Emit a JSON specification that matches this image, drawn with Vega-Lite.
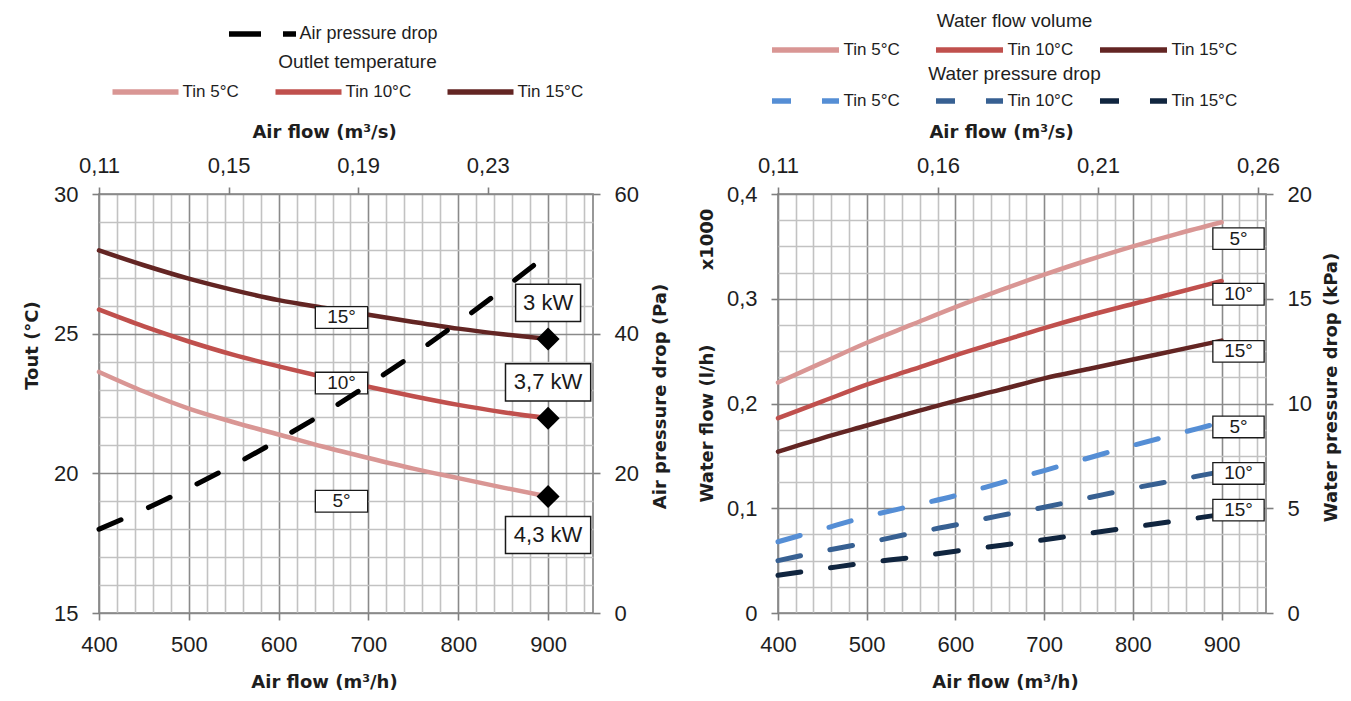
{
  "$schema": "https://vega.github.io/schema/vega-lite/v6.json",
  "background": "white",
  "padding": {"left": 22, "top": 11, "right": 5, "bottom": 5},
  "datasets": {
    "tout": [
      {"airflow": 400, "Tin 5°C": 23.63, "Tin 10°C": 25.86, "Tin 15°C": 27.98},
      {"airflow": 450, "Tin 5°C": 22.93, "Tin 10°C": 25.26, "Tin 15°C": 27.45},
      {"airflow": 500, "Tin 5°C": 22.32, "Tin 10°C": 24.72, "Tin 15°C": 26.97},
      {"airflow": 550, "Tin 5°C": 21.83, "Tin 10°C": 24.24, "Tin 15°C": 26.56},
      {"airflow": 600, "Tin 5°C": 21.39, "Tin 10°C": 23.83, "Tin 15°C": 26.2},
      {"airflow": 650, "Tin 5°C": 20.95, "Tin 10°C": 23.45, "Tin 15°C": 25.93},
      {"airflow": 700, "Tin 5°C": 20.55, "Tin 10°C": 23.1, "Tin 15°C": 25.68},
      {"airflow": 750, "Tin 5°C": 20.17, "Tin 10°C": 22.76, "Tin 15°C": 25.42},
      {"airflow": 800, "Tin 5°C": 19.83, "Tin 10°C": 22.45, "Tin 15°C": 25.18},
      {"airflow": 850, "Tin 5°C": 19.49, "Tin 10°C": 22.19, "Tin 15°C": 24.98},
      {"airflow": 900, "Tin 5°C": 19.17, "Tin 10°C": 21.97, "Tin 15°C": 24.81}
    ],
    "pa": [
      {"airflow": 400, "series": "Air pressure drop", "pa": 12.0},
      {"airflow": 450, "series": "Air pressure drop", "pa": 14.8},
      {"airflow": 500, "series": "Air pressure drop", "pa": 17.9},
      {"airflow": 550, "series": "Air pressure drop", "pa": 21.2},
      {"airflow": 600, "series": "Air pressure drop", "pa": 24.8},
      {"airflow": 650, "series": "Air pressure drop", "pa": 28.6},
      {"airflow": 700, "series": "Air pressure drop", "pa": 32.7},
      {"airflow": 750, "series": "Air pressure drop", "pa": 37.0},
      {"airflow": 800, "series": "Air pressure drop", "pa": 41.6},
      {"airflow": 850, "series": "Air pressure drop", "pa": 46.4},
      {"airflow": 900, "series": "Air pressure drop", "pa": 51.4}
    ],
    "leftLabels": [
      {"airflow": 670, "tout": 25.58, "label": "15°"},
      {"airflow": 670, "tout": 23.23, "label": "10°"},
      {"airflow": 670, "tout": 19.0, "label": "5°"}
    ],
    "power": [
      {"airflow": 900, "tout": 24.81, "power": "3 kW"},
      {"airflow": 900, "tout": 21.97, "power": "3,7 kW"},
      {"airflow": 900, "tout": 19.17, "power": "4,3 kW"}
    ],
    "flow": [
      {"airflow": 400, "Tin 5°C": 0.220, "Tin 10°C": 0.186, "Tin 15°C": 0.154},
      {"airflow": 450, "Tin 5°C": 0.239, "Tin 10°C": 0.202, "Tin 15°C": 0.167},
      {"airflow": 500, "Tin 5°C": 0.258, "Tin 10°C": 0.218, "Tin 15°C": 0.179},
      {"airflow": 550, "Tin 5°C": 0.275, "Tin 10°C": 0.232, "Tin 15°C": 0.191},
      {"airflow": 600, "Tin 5°C": 0.292, "Tin 10°C": 0.246, "Tin 15°C": 0.2025},
      {"airflow": 650, "Tin 5°C": 0.308, "Tin 10°C": 0.259, "Tin 15°C": 0.213},
      {"airflow": 700, "Tin 5°C": 0.323, "Tin 10°C": 0.272, "Tin 15°C": 0.224},
      {"airflow": 750, "Tin 5°C": 0.337, "Tin 10°C": 0.284, "Tin 15°C": 0.233},
      {"airflow": 800, "Tin 5°C": 0.350, "Tin 10°C": 0.295, "Tin 15°C": 0.242},
      {"airflow": 850, "Tin 5°C": 0.362, "Tin 10°C": 0.306, "Tin 15°C": 0.251},
      {"airflow": 900, "Tin 5°C": 0.373, "Tin 10°C": 0.317, "Tin 15°C": 0.260}
    ],
    "kpa": [
      {"airflow": 400, "Tin 5°C": 3.4, "Tin 10°C": 2.5, "Tin 15°C": 1.8},
      {"airflow": 450, "Tin 5°C": 4.0, "Tin 10°C": 2.95, "Tin 15°C": 2.1},
      {"airflow": 500, "Tin 5°C": 4.6, "Tin 10°C": 3.35, "Tin 15°C": 2.4},
      {"airflow": 550, "Tin 5°C": 5.1, "Tin 10°C": 3.8, "Tin 15°C": 2.65},
      {"airflow": 600, "Tin 5°C": 5.6, "Tin 10°C": 4.2, "Tin 15°C": 2.95},
      {"airflow": 650, "Tin 5°C": 6.2, "Tin 10°C": 4.65, "Tin 15°C": 3.22},
      {"airflow": 700, "Tin 5°C": 6.8, "Tin 10°C": 5.05, "Tin 15°C": 3.5},
      {"airflow": 750, "Tin 5°C": 7.4, "Tin 10°C": 5.5, "Tin 15°C": 3.8},
      {"airflow": 800, "Tin 5°C": 8.0, "Tin 10°C": 5.95, "Tin 15°C": 4.1},
      {"airflow": 850, "Tin 5°C": 8.55, "Tin 10°C": 6.35, "Tin 15°C": 4.4},
      {"airflow": 900, "Tin 5°C": 9.1, "Tin 10°C": 6.75, "Tin 15°C": 4.7}
    ],
    "flowLabels": [
      {"airflow": 919, "flow": 0.3574, "label": "5°"},
      {"airflow": 919, "flow": 0.3043, "label": "10°"},
      {"airflow": 919, "flow": 0.2498, "label": "15°"}
    ],
    "kpaLabels": [
      {"airflow": 919, "kpa": 8.88, "label": "5°"},
      {"airflow": 919, "kpa": 6.66, "label": "10°"},
      {"airflow": 919, "kpa": 4.91, "label": "15°"}
    ],
    "blank": [{}]
  },
  "bounds": "flush",
  "spacing": 185,
  "hconcat": [
    {
      "width": 494,
      "height": 419,
      "layer": [
        {
          "layer": [
            {
              "layer": [
                {
                  "data": {"name": "tout"},
                  "transform": [{"fold": ["Tin 5°C", "Tin 10°C", "Tin 15°C"], "as": ["tin", "tout"]}],
                  "mark": {"type": "line", "strokeWidth": 4.5, "strokeCap": "round", "interpolate": "monotone"},
                  "encoding": {
                    "x": {
                      "field": "airflow", "type": "quantitative",
                      "scale": {"domain": [400, 950], "nice": false, "zero": false},
                      "axis": {
                        "orient": "bottom", "title": "Air flow (m³/h)",
                        "values": [400,420,440,460,480,500,520,540,560,580,600,620,640,660,680,700,720,740,760,780,800,820,840,860,880,900,920,940],
                        "tickCount": 200, "format": "d",
                        "labelExpr": "datum.value % 100 === 0 ? datum.label : ''",
                        "grid": true,
                        "gridColor": {"condition": {"test": "datum.value % 100 === 0", "value": "#8a8a8a"}, "value": "#c2c2c2"},
                        "gridWidth": 1.6,
                        "tickSize": 7,
                        "tickOpacity": {"condition": {"test": "datum.value % 100 === 0", "value": 1}, "value": 0},
                        "labelPadding": 14, "titlePadding": 18, "titleX": 225,
                        "labelOverlap": false, "labelFlush": false
                      }
                    },
                    "y": {
                      "field": "tout", "type": "quantitative",
                      "scale": {"domain": [15, 30], "nice": false, "zero": false},
                      "axis": {
                        "orient": "left", "title": "Tout (°C)",
                        "values": [15,16,17,18,19,20,21,22,23,24,25,26,27,28,29,30],
                        "tickCount": 200, "format": "d",
                        "labelExpr": "datum.value % 5 === 0 ? datum.label : ''",
                        "grid": true,
                        "gridColor": {"condition": {"test": "datum.value % 5 === 0", "value": "#8a8a8a"}, "value": "#c2c2c2"},
                        "gridWidth": 1.6,
                        "tickSize": 7,
                        "tickOpacity": {"condition": {"test": "datum.value % 5 === 0", "value": 1}, "value": 0},
                        "labelPadding": 14, "titlePadding": 12, "titleY": 151,
                        "labelOverlap": false
                      }
                    },
                    "color": {
                      "field": "tin", "type": "nominal",
                      "scale": {"domain": ["Tin 5°C", "Tin 10°C", "Tin 15°C"], "range": ["#D99694", "#C0504D", "#632523"]},
                      "legend": {
                        "orient": "none", "legendX": 32.5, "legendY": -141,
                        "direction": "horizontal", "columns": 3,
                        "title": "Outlet temperature", "titleAnchor": "middle", "titleOrient": "top",
                        "titlePadding": 6, "titleFontSize": 19,
                        "symbolType": "M-3,0L3,0", "symbolSize": 484, "symbolStrokeWidth": 5.5,
                        "labelFontSize": 17, "labelOffset": 23, "columnPadding": 25,
                        "padding": 0, "gridAlign": "each"
                      }
                    }
                  }
                },
                {
                  "data": {"name": "leftLabels"},
                  "mark": {"type": "point", "shape": "M-0.872,-0.362L0.872,-0.362L0.872,0.362L-0.872,0.362Z", "size": 3600, "filled": true, "fill": "white", "stroke": "#1a1a1a", "strokeWidth": 1.3, "opacity": 1},
                  "encoding": {
                    "x": {"field": "airflow", "type": "quantitative"},
                    "y": {"field": "tout", "type": "quantitative"}
                  }
                },
                {
                  "data": {"name": "leftLabels"},
                  "mark": {"type": "text", "font": "Liberation Sans", "fontSize": 19, "color": "#1a1a1a", "align": "center", "baseline": "middle"},
                  "encoding": {
                    "x": {"field": "airflow", "type": "quantitative"},
                    "y": {"field": "tout", "type": "quantitative"},
                    "text": {"field": "label"}
                  }
                },
                {
                  "data": {"name": "power"},
                  "mark": {"type": "point", "shape": "diamond", "size": 530, "filled": true, "color": "black", "opacity": 1},
                  "encoding": {
                    "x": {"field": "airflow", "type": "quantitative"},
                    "y": {"field": "tout", "type": "quantitative"}
                  }
                },
                {
                  "data": {"name": "power"},
                  "transform": [{"filter": {"field": "power", "equal": "3 kW"}}],
                  "mark": {"type": "point", "shape": "M-1.083,-0.62L1.083,-0.62L1.083,0.62L-1.083,0.62Z", "size": 3600, "filled": true, "fill": "white", "stroke": "#1a1a1a", "strokeWidth": 1.5, "opacity": 1, "yOffset": -36},
                  "encoding": {
                    "x": {"field": "airflow", "type": "quantitative"},
                    "y": {"field": "tout", "type": "quantitative"}
                  }
                },
                {
                  "data": {"name": "power"},
                  "transform": [{"filter": {"field": "power", "equal": "3,7 kW"}}],
                  "mark": {"type": "point", "shape": "M-1.42,-0.62L1.42,-0.62L1.42,0.62L-1.42,0.62Z", "size": 3600, "filled": true, "fill": "white", "stroke": "#1a1a1a", "strokeWidth": 1.5, "opacity": 1, "yOffset": -36},
                  "encoding": {
                    "x": {"field": "airflow", "type": "quantitative"},
                    "y": {"field": "tout", "type": "quantitative"}
                  }
                },
                {
                  "data": {"name": "power"},
                  "transform": [{"filter": {"field": "power", "equal": "4,3 kW"}}],
                  "mark": {"type": "point", "shape": "M-1.42,-0.62L1.42,-0.62L1.42,0.62L-1.42,0.62Z", "size": 3600, "filled": true, "fill": "white", "stroke": "#1a1a1a", "strokeWidth": 1.5, "opacity": 1, "yOffset": 38.5},
                  "encoding": {
                    "x": {"field": "airflow", "type": "quantitative"},
                    "y": {"field": "tout", "type": "quantitative"}
                  }
                },
                {
                  "data": {"name": "power"},
                  "transform": [{"filter": {"field": "power", "oneOf": ["3 kW", "3,7 kW"]}}],
                  "mark": {"type": "text", "font": "Liberation Sans", "fontSize": 22, "color": "#1a1a1a", "align": "center", "baseline": "middle", "yOffset": -36},
                  "encoding": {
                    "x": {"field": "airflow", "type": "quantitative"},
                    "y": {"field": "tout", "type": "quantitative"},
                    "text": {"field": "power"}
                  }
                },
                {
                  "data": {"name": "power"},
                  "transform": [{"filter": {"field": "power", "equal": "4,3 kW"}}],
                  "mark": {"type": "text", "font": "Liberation Sans", "fontSize": 22, "color": "#1a1a1a", "align": "center", "baseline": "middle", "yOffset": 38.5},
                  "encoding": {
                    "x": {"field": "airflow", "type": "quantitative"},
                    "y": {"field": "tout", "type": "quantitative"},
                    "text": {"field": "power"}
                  }
                }
              ]
            },
            {
              "data": {"name": "pa"},
              "mark": {"type": "line", "strokeWidth": 5, "strokeDash": [24, 30], "strokeCap": "round", "interpolate": "monotone"},
              "encoding": {
                "x": {"field": "airflow", "type": "quantitative"},
                "y": {
                  "field": "pa", "type": "quantitative",
                  "scale": {"domain": [0, 60], "nice": false, "zero": false},
                  "axis": {
                    "orient": "right", "title": "Air pressure drop (Pa)",
                    "values": [0, 20, 40, 60], "grid": false, "tickSize": 7,
                    "labelPadding": 14, "titlePadding": 31, "titleY": 202, "titleAngle": 270
                  }
                },
                "color": {
                  "field": "series", "type": "nominal",
                  "scale": {"range": ["#000000"]},
                  "legend": {
                    "orient": "none", "legendX": 149.5, "legendY": -174, "title": null,
                    "symbolType": "M-3,0L3,0", "symbolSize": 499, "symbolStrokeWidth": 5.5, "symbolDash": [32, 22],
                    "labelFontSize": 18, "labelOffset": 23, "padding": 0
                  }
                }
              }
            }
          ],
          "resolve": {"scale": {"y": "independent", "color": "independent"}}
        },
        {
          "data": {"name": "blank"},
          "mark": {"type": "point", "opacity": 0},
          "encoding": {
            "x": {
              "datum": 0.11, "type": "quantitative",
              "scale": {"domain": [0.11, 0.2625], "nice": false, "zero": false},
              "axis": {
                "orient": "top", "title": "Air flow (m³/s)",
                "values": [0.11, 0.15, 0.19, 0.23], "tickCount": 200, "format": ".2f",
                "labelExpr": "replace(datum.label, '.', ',')",
                "grid": false, "tickSize": 7, "labelPadding": 10, "titlePadding": 13, "titleX": 225,
                "labelOverlap": false, "labelFlush": false
              }
            }
          }
        }
      ],
      "resolve": {"scale": {"x": "independent"}}
    },
    {
      "width": 488,
      "height": 419,
      "layer": [
        {
          "layer": [
            {
              "layer": [
                {
                  "data": {"name": "flow"},
                  "transform": [{"fold": ["Tin 5°C", "Tin 10°C", "Tin 15°C"], "as": ["tin", "flow"]}],
                  "mark": {"type": "line", "strokeWidth": 4.5, "strokeCap": "round", "interpolate": "monotone"},
                  "encoding": {
                    "x": {
                      "field": "airflow", "type": "quantitative",
                      "scale": {"domain": [400, 950], "nice": false, "zero": false},
                      "axis": {
                        "orient": "bottom", "title": "Air flow (m³/h)",
                        "values": [400,420,440,460,480,500,520,540,560,580,600,620,640,660,680,700,720,740,760,780,800,820,840,860,880,900,920,940],
                        "tickCount": 200, "format": "d",
                        "labelExpr": "datum.value % 100 === 0 ? datum.label : ''",
                        "grid": true,
                        "gridColor": {"condition": {"test": "datum.value % 100 === 0", "value": "#8a8a8a"}, "value": "#c2c2c2"},
                        "gridWidth": 1.6,
                        "tickSize": 7,
                        "tickOpacity": {"condition": {"test": "datum.value % 100 === 0", "value": 1}, "value": 0},
                        "labelPadding": 14, "titlePadding": 18, "titleX": 227,
                        "labelOverlap": false, "labelFlush": false
                      }
                    },
                    "y": {
                      "field": "flow", "type": "quantitative",
                      "scale": {"domain": [0, 0.4], "nice": false, "zero": false},
                      "axis": {
                        "orient": "left", "title": "Water flow (l/h)",
                        "values": [0,0.025,0.05,0.075,0.1,0.125,0.15,0.175,0.2,0.225,0.25,0.275,0.3,0.325,0.35,0.375,0.4],
                        "tickCount": 200,
                        "labelExpr": "abs(datum.value*10 - round(datum.value*10)) < 0.001 ? replace(format(datum.value, '.1~f'), '.', ',') : ''",
                        "grid": true,
                        "gridColor": {"condition": {"test": "abs(datum.value*10 - round(datum.value*10)) < 0.001", "value": "#8a8a8a"}, "value": "#c2c2c2"},
                        "gridWidth": 1.6,
                        "tickSize": 7,
                        "tickOpacity": {"condition": {"test": "abs(datum.value*10 - round(datum.value*10)) < 0.001", "value": 1}, "value": 0},
                        "labelPadding": 14, "titlePadding": 10, "titleY": 229,
                        "labelOverlap": false
                      }
                    },
                    "color": {
                      "field": "tin", "type": "nominal",
                      "scale": {"domain": ["Tin 5°C", "Tin 10°C", "Tin 15°C"], "range": ["#D99694", "#C0504D", "#632523"]},
                      "legend": {
                        "orient": "none", "legendX": 13.5, "legendY": -182,
                        "direction": "horizontal", "columns": 3,
                        "title": "Water flow volume", "titleAnchor": "middle", "titleOrient": "top",
                        "titlePadding": 5, "titleFontSize": 19,
                        "symbolType": "M-3,0L3,0", "symbolSize": 499, "symbolStrokeWidth": 5.5,
                        "labelFontSize": 17, "labelOffset": 24, "columnPadding": 15,
                        "padding": 0, "gridAlign": "all"
                      }
                    }
                  }
                },
                {
                  "data": {"name": "flowLabels"},
                  "mark": {"type": "point", "shape": "M-0.855,-0.36L0.855,-0.36L0.855,0.36L-0.855,0.36Z", "size": 3600, "filled": true, "fill": "white", "stroke": "#1a1a1a", "strokeWidth": 1.3, "opacity": 1},
                  "encoding": {
                    "x": {"field": "airflow", "type": "quantitative"},
                    "y": {"field": "flow", "type": "quantitative"}
                  }
                },
                {
                  "data": {"name": "flowLabels"},
                  "mark": {"type": "text", "font": "Liberation Sans", "fontSize": 19, "color": "#1a1a1a", "align": "center", "baseline": "middle"},
                  "encoding": {
                    "x": {"field": "airflow", "type": "quantitative"},
                    "y": {"field": "flow", "type": "quantitative"},
                    "text": {"field": "label"}
                  }
                }
              ]
            },
            {
              "layer": [
                {
                  "data": {"name": "kpa"},
                  "transform": [{"fold": ["Tin 5°C", "Tin 10°C", "Tin 15°C"], "as": ["tin", "kpa"]}],
                  "mark": {"type": "line", "strokeWidth": 5, "strokeDash": [23, 30], "strokeCap": "round", "interpolate": "monotone"},
                  "encoding": {
                    "x": {"field": "airflow", "type": "quantitative"},
                    "y": {
                      "field": "kpa", "type": "quantitative",
                      "scale": {"domain": [0, 20], "nice": false, "zero": false},
                      "axis": {
                        "orient": "right", "title": "Water pressure drop (kPa)",
                        "values": [0, 5, 10, 15, 20], "grid": false, "tickSize": 7,
                        "labelPadding": 14, "titlePadding": 29, "titleY": 193, "titleAngle": 270
                      }
                    },
                    "color": {
                      "field": "tin", "type": "nominal",
                      "scale": {"domain": ["Tin 5°C", "Tin 10°C", "Tin 15°C"], "range": ["#558ED5", "#376092", "#10253F"]},
                      "legend": {
                        "orient": "none", "legendX": 13.5, "legendY": -129,
                        "direction": "horizontal", "columns": 3,
                        "title": "Water pressure drop", "titleAnchor": "middle", "titleOrient": "top",
                        "titlePadding": 3, "titleFontSize": 19,
                        "symbolType": "M-3,0L3,0", "symbolSize": 499, "symbolStrokeWidth": 5.5, "symbolDash": [19, 31],
                        "labelFontSize": 17, "labelOffset": 24, "columnPadding": 15,
                        "padding": 0, "gridAlign": "all"
                      }
                    }
                  }
                },
                {
                  "data": {"name": "kpaLabels"},
                  "mark": {"type": "point", "shape": "M-0.855,-0.36L0.855,-0.36L0.855,0.36L-0.855,0.36Z", "size": 3600, "filled": true, "fill": "white", "stroke": "#1a1a1a", "strokeWidth": 1.3, "opacity": 1},
                  "encoding": {
                    "x": {"field": "airflow", "type": "quantitative"},
                    "y": {"field": "kpa", "type": "quantitative"}
                  }
                },
                {
                  "data": {"name": "kpaLabels"},
                  "mark": {"type": "text", "font": "Liberation Sans", "fontSize": 19, "color": "#1a1a1a", "align": "center", "baseline": "middle"},
                  "encoding": {
                    "x": {"field": "airflow", "type": "quantitative"},
                    "y": {"field": "kpa", "type": "quantitative"},
                    "text": {"field": "label"}
                  }
                }
              ]
            },
            {
              "data": {"name": "blank"},
              "mark": {"type": "point", "opacity": 0},
              "encoding": {
                "y": {
                  "datum": 0, "type": "quantitative",
                  "scale": {"domain": [0, 0.4], "nice": false, "zero": false},
                  "axis": {
                    "orient": "left", "title": "x1000",
                    "values": [0, 0.1, 0.2, 0.3, 0.4], "tickCount": 200,
                    "labelExpr": "replace(format(datum.value, '.1~f'), '.', ',')",
                    "labelOpacity": 0, "tickOpacity": 0, "grid": false, "tickSize": 7,
                    "labelPadding": 14, "titlePadding": 10, "titleY": 45
                  }
                }
              }
            }
          ],
          "resolve": {"scale": {"y": "independent", "color": "independent"}}
        },
        {
          "data": {"name": "blank"},
          "mark": {"type": "point", "opacity": 0},
          "encoding": {
            "x": {
              "datum": 0.11, "type": "quantitative",
              "scale": {"domain": [0.11, 0.2625], "nice": false, "zero": false},
              "axis": {
                "orient": "top", "title": "Air flow (m³/s)",
                "values": [0.11, 0.16, 0.21, 0.26], "tickCount": 200, "format": ".2f",
                "labelExpr": "replace(datum.label, '.', ',')",
                "grid": false, "tickSize": 7, "labelPadding": 10, "titlePadding": 13, "titleX": 223,
                "labelOverlap": false, "labelFlush": false
              }
            }
          }
        }
      ],
      "resolve": {"scale": {"x": "independent"}}
    }
  ],
  "config": {
    "font": "Liberation Sans",
    "view": {"stroke": "#7f7f7f", "strokeWidth": 1.6},
    "axis": {
      "labelFont": "Liberation Sans", "labelFontSize": 22, "labelColor": "#1e1e1e",
      "titleFont": "DejaVu Sans", "titleFontSize": 18, "titleFontWeight": "bold", "titleColor": "#1e1e1e",
      "domain": false, "tickColor": "#7f7f7f", "tickWidth": 1.6
    },
    "legend": {
      "labelFont": "Liberation Sans", "labelColor": "#1e1e1e",
      "titleFont": "Liberation Sans", "titleColor": "#1e1e1e", "titleFontWeight": "normal"
    }
  }
}
